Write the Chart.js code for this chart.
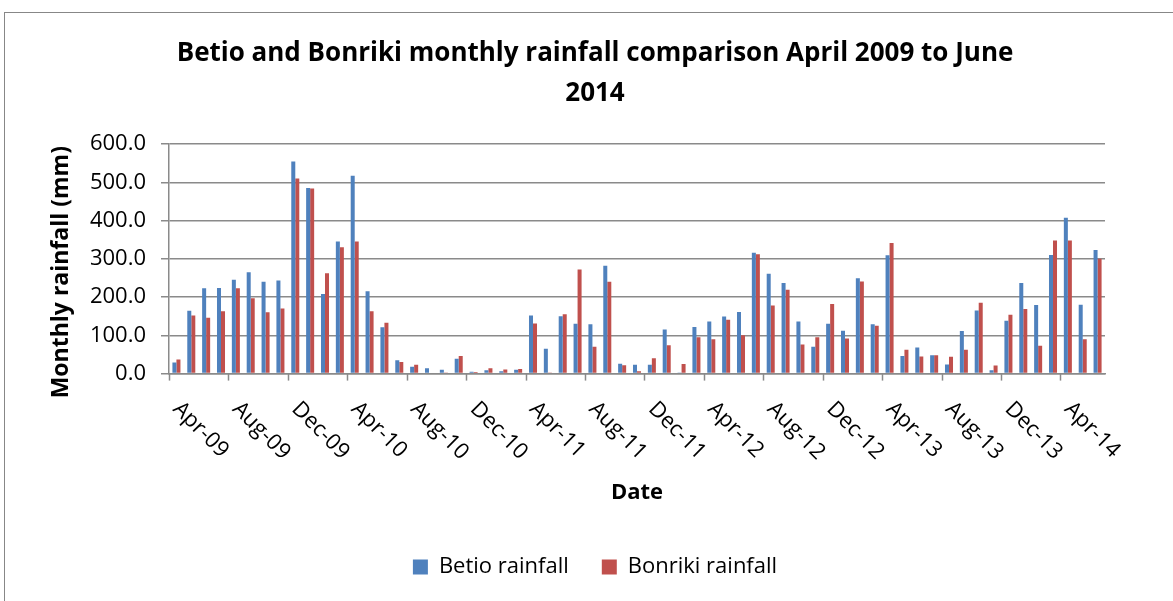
<!DOCTYPE html>
<html>
<head>
<meta charset="utf-8"/>
<style>
  html,body{margin:0;padding:0;background:#fff;overflow:hidden;}
  .frame{position:absolute;left:4px;top:12px;width:1300px;height:700px;border:1.5px solid #878787;}
  canvas{position:absolute;left:0;top:0;}
</style>
</head>
<body>
<div class="frame"></div>
<canvas id="c" width="1173" height="601"></canvas>
<script src="https://cdn.jsdelivr.net/npm/chart.js@4.4.0/dist/chart.umd.min.js"></script>
<script>
const months = [
  "Apr-09","May-09","Jun-09","Jul-09","Aug-09","Sep-09","Oct-09","Nov-09","Dec-09",
  "Jan-10","Feb-10","Mar-10","Apr-10","May-10","Jun-10","Jul-10","Aug-10","Sep-10","Oct-10","Nov-10","Dec-10",
  "Jan-11","Feb-11","Mar-11","Apr-11","May-11","Jun-11","Jul-11","Aug-11","Sep-11","Oct-11","Nov-11","Dec-11",
  "Jan-12","Feb-12","Mar-12","Apr-12","May-12","Jun-12","Jul-12","Aug-12","Sep-12","Oct-12","Nov-12","Dec-12",
  "Jan-13","Feb-13","Mar-13","Apr-13","May-13","Jun-13","Jul-13","Aug-13","Sep-13","Oct-13","Nov-13","Dec-13",
  "Jan-14","Feb-14","Mar-14","Apr-14","May-14","Jun-14"
];

// monthly totals, mm
const betio = [
  29, 164, 223, 224, 245, 265, 240, 243, 554,
  485, 208, 345, 517, 215, 121, 35, 18, 14, 10, 39, 5,
  9, 6, 10, 152, 65, 150, 130, 129, 282, 26, 23, 23,
  115, 3, 122, 136, 149, 161, 316, 261, 237, 136, 70, 130,
  112, 249, 129, 309, 46, 68, 48, 24, 111, 165, 9, 138,
  237, 179, 310, 407, 180, 323
];
const bonriki = [
  37, 152, 146, 163, 223, 197, 160, 170, 510,
  484, 262, 330, 345, 163, 133, 30, 23, 0, 3, 46, 4,
  14, 11, 12, 131, 3, 155, 272, 70, 240, 22, 6, 40,
  74, 25, 95, 90, 141, 100, 312, 178, 219, 76, 95, 182,
  92, 241, 125, 341, 62, 45, 48, 44, 62, 185, 21, 154,
  169, 73, 348, 348, 90, 300
];

const yTicks = [0, 100, 200, 300, 400, 500, 600];
const LABEL_STEP = 4;

const AXIS = '#8a8a8a';
const FONT = '"Open Sans", sans-serif';

// Excel-style date labels: every 4th month, slanted down to the right,
// with tick marks on the category boundaries
const slantedMonths = {
  id: 'slantedMonths',
  afterDraw(chart) {
    const { ctx, scales: { x } } = chart;
    const half = (x.getPixelForValue(1) - x.getPixelForValue(0)) / 2;
    ctx.save();
    ctx.strokeStyle = AXIS;
    ctx.lineWidth = 1.5;
    ctx.fillStyle = '#000';
    ctx.font = '22px ' + FONT;
    ctx.textAlign = 'left';
    ctx.textBaseline = 'middle';
    months.forEach((m, i) => {
      if (i % LABEL_STEP) return;
      const cx = x.getPixelForValue(i);
      const edge = Math.round(cx - half) + 0.5;
      ctx.beginPath();
      ctx.moveTo(edge, x.top);
      ctx.lineTo(edge, x.top + 7);
      ctx.stroke();
      ctx.save();
      ctx.translate(cx, x.top + 32);
      ctx.rotate(Math.PI / 4);
      ctx.fillText(m, 0, 0);
      ctx.restore();
    });
    ctx.restore();
  }
};

new Chart(document.getElementById('c'), {
  type: 'bar',
  data: {
    labels: months,
    datasets: [
      { label: 'Betio rainfall', data: betio, backgroundColor: '#4f81bd',
        categoryPercentage: 0.54, barPercentage: 1.0 },
      { label: 'Bonriki rainfall', data: bonriki, backgroundColor: '#c0504d',
        categoryPercentage: 0.54, barPercentage: 1.0 }
    ]
  },
  options: {
    responsive: false,
    animation: false,
    layout: { padding: { top: 14, left: 17, right: 0, bottom: 13 } },
    plugins: {
      tooltip: { enabled: false },
      title: {
        display: true,
        text: ['Betio and Bonriki monthly rainfall comparison April 2009 to June', '2014'],
        color: '#000',
        font: { family: FONT, size: 26, weight: 'bold', lineHeight: 40 / 26 },
        padding: { top: 20, bottom: 30 }
      },
      legend: {
        position: 'bottom',
        labels: {
          color: '#000',
          font: { family: FONT, size: 22 },
          boxWidth: 15, boxHeight: 15,
          padding: 33
        }
      }
    },
    scales: {
      x: {
        type: 'category',
        offset: true,
        grid: { display: false, drawTicks: false },
        border: { display: true, color: AXIS, width: 1.5 },
        ticks: { display: false },
        title: {
          display: true, text: 'Date', color: '#000',
          font: { family: FONT, size: 22, weight: 'bold' },
          padding: { top: 106, bottom: 17 }
        }
      },
      y: {
        min: 0, max: 600,
        afterBuildTicks: (s) => { s.ticks = yTicks.map(v => ({ value: v })); },
        afterFit: (s) => { s.width = 152; },
        grid: { color: AXIS, lineWidth: 1.5, tickLength: 8 },
        border: { display: true, color: AXIS, width: 1.5 },
        ticks: {
          color: '#000', padding: 15,
          font: { family: FONT, size: 22 },
          callback: (v) => Number(v).toFixed(1)
        },
        title: {
          display: true,
          // trailing spaces nudge the centred title down a little
          text: 'Monthly rainfall (mm)\u2002\u2002\u2009',
          color: '#000',
          font: { family: FONT, size: 23, weight: 'bold' },
          padding: { top: 31, bottom: 0 }
        }
      },
      gutter: {
        position: 'right',
        afterFit: (s) => { s.width = 68; },
        grid: { display: false },
        border: { display: false },
        ticks: { display: false }
      }
    }
  },
  plugins: [slantedMonths]
});
</script>
</body>
</html>
